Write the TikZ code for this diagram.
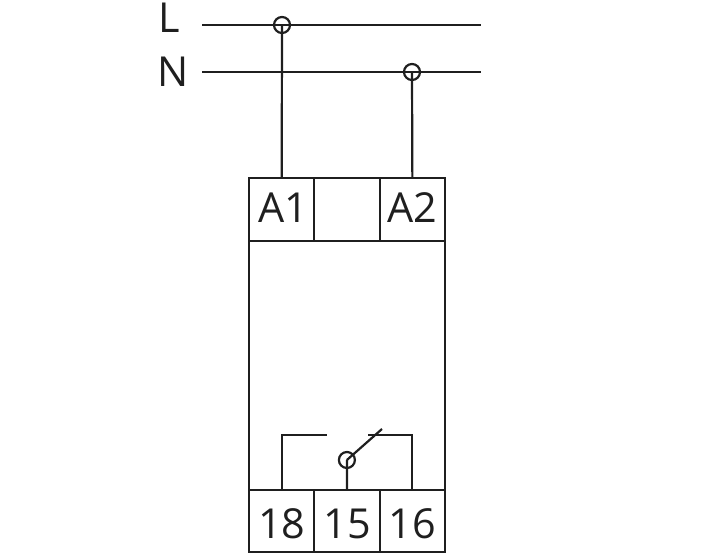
\documentclass[tikz,border=0pt]{standalone}
\usepackage{fontspec}
\setmainfont{Open Sans}
\usepackage{tikz}
\usetikzlibrary{positioning}
\tikzstyle{terminal} = [draw, rectangle, inner sep=0pt, outer sep=0pt,
    minimum height=47pt, minimum width=49pt, text depth=0pt, font=\fontsize{31}{31}\selectfont]
\tikzstyle{upper} = [terminal, text height=19pt]
\tikzstyle{lower} = [terminal, text height=27pt]
\tikzstyle{rail} = [inner sep=0pt, font=\fontsize{31}{31}\selectfont]
\tikzstyle{joint} = [draw, circle, inner sep=0pt, minimum size=12pt]
\tikzstyle{input} = [coordinate]

\begin{document}
\begin{tikzpicture}[x=0.75pt,y=-0.75pt,line width=1.65pt,color=black!88]
    \useasboundingbox (0,0) rectangle (714,555);

    % supply rails
    \node [rail] (L) at (169,18) {L};
    \node [rail] (N) at (173,72) {N};
    \node [input, name=Lstart] at (202,25) {};
    \node [input, name=Lend] at (481,25) {};
    \node [input, name=Nstart] at (202,72) {};
    \node [input, name=Nend] at (481,72) {};
    \node [joint] (jointL) at (282,25) {};
    \node [joint] (jointN) at (412,72) {};
    \draw (Lstart) -- (Lend);
    \draw (Nstart) -- (Nend);

    % top terminals
    \node [upper] (A1) at (281.7,209.5) {\hspace{2pt}A1};
    \node [upper, right=0pt of A1] (blank) {};
    \node [upper, right=0pt of blank] (A2) {A2};

    % bottom terminals
    \node [lower] (t18) at (281.7,521) {18};
    \node [lower, right=0pt of t18] (t15) {15};
    \node [lower, right=0pt of t15] (t16) {16};

    % housing
    \draw (A1.south west) -- (t18.north west);
    \draw (A2.south east) -- (t16.north east);

    \draw (jointL.center) -- (A1.north);
    \draw (jointN.center) -- (A2.north);

    % contact
    \node [joint] (pivot) at (346.9,460) {};
    \node [input, name=blade] at (382,429) {};
    \node [input, name=nc] at (327,435) {};
    \node [input, name=no] at (368,435) {};
    \draw (t15.north) -- (pivot.center);
    \draw (pivot.center) -- (blade);
    \draw (t18.north) |- (nc);
    \draw (t16.north) |- (no);
\end{tikzpicture}
\end{document}
